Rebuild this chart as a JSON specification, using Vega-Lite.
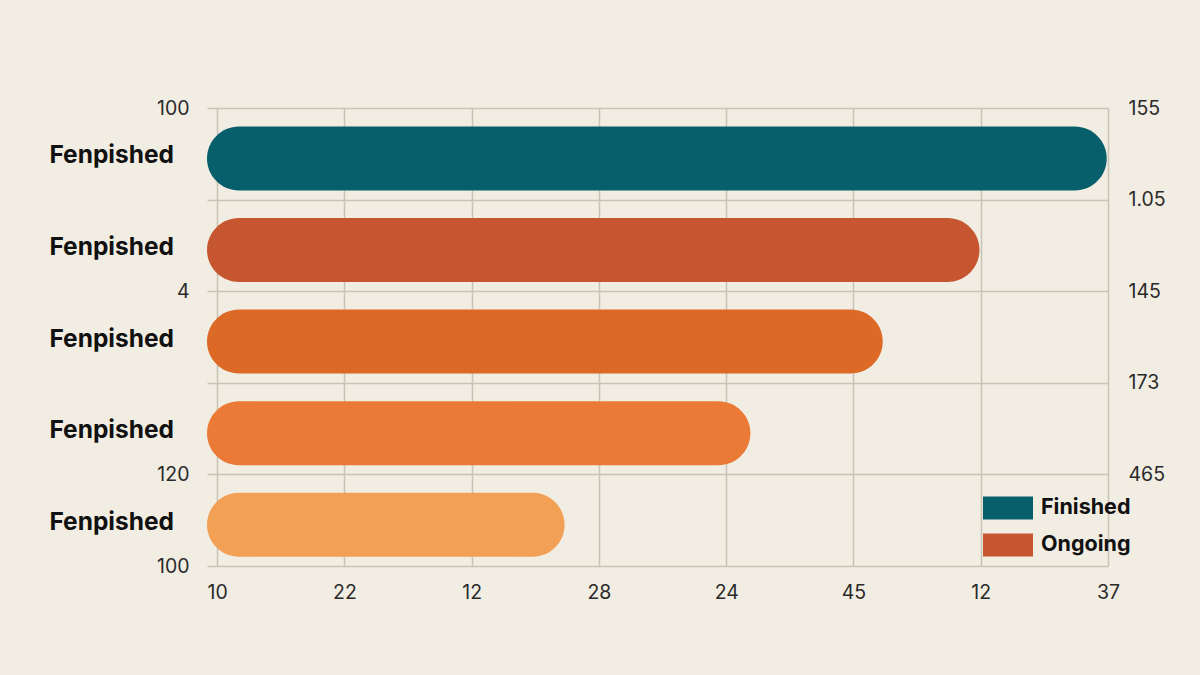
{
  "$schema": "https://vega.github.io/schema/vega-lite/v6.json",
  "width": 901,
  "height": 458,
  "autosize": {"type": "none"},
  "padding": {"left": 207, "top": 108, "right": 92, "bottom": 109},
  "background": "#f2ede3",
  "config": {
    "view": {"stroke": null},
    "font": "Inter",
    "axis": {
      "domain": false,
      "ticks": false,
      "labelFlush": false,
      "labelOverlap": false,
      "gridColor": "#c8c2b7",
      "gridWidth": 1.5,
      "gridOpacity": 1,
      "labelFont": "Inter",
      "labelFontSize": 19.5,
      "labelColor": "#2a2a2a",
      "title": null
    }
  },
  "data": {
    "values": [
      {"label": "Fenpished", "shade": "Finished", "row": 1, "value": 6.99},
      {"label": "Fenpished", "shade": "Ongoing", "row": 2, "value": 5.99},
      {"label": "Fenpished", "shade": "Ongoing 2", "row": 3, "value": 5.23},
      {"label": "Fenpished", "shade": "Ongoing 3", "row": 4, "value": 4.19},
      {"label": "Fenpished", "shade": "Ongoing 4", "row": 5, "value": 2.73}
    ]
  },
  "layer": [
    {
      "mark": {"type": "bar", "orient": "horizontal", "size": 64, "cornerRadius": 32},
      "encoding": {
        "x": {
          "field": "value",
          "type": "quantitative",
          "scale": {"domain": [-0.08, 7], "nice": false, "zero": false, "padding": 0},
          "axis": {
            "values": [0, 1, 2, 3, 4, 5, 6, 7],
            "grid": true,
            "labelPadding": 17,
            "labelExpr": "['10','22','12','28','24','45','12','37'][datum.value]"
          }
        },
        "x2": {"datum": -0.08},
        "y": {
          "field": "row",
          "type": "quantitative",
          "scale": {"domain": [0.45, 5.45], "nice": false, "zero": false, "reverse": true, "padding": 0},
          "axis": {
            "orient": "left",
            "values": [0.45, 1.45, 2.45, 3.45, 4.45, 5.45],
            "grid": true,
            "labelPadding": 18,
            "labelExpr": "['100','','4','','120','100'][round(datum.value-0.45)]"
          }
        },
        "color": {
          "field": "shade",
          "type": "nominal",
          "scale": {
            "domain": ["Finished", "Ongoing", "Ongoing 2", "Ongoing 3", "Ongoing 4"],
            "range": ["#065f6b", "#c6562f", "#dc6926", "#ea7a35", "#f2a055"]
          },
          "legend": {
            "values": ["Finished", "Ongoing"],
            "title": null,
            "orient": "none",
            "legendX": 776,
            "legendY": 375,
            "symbolType": "M-1,-0.46H1V0.46H-1Z",
            "symbolSize": 2500,
            "symbolStrokeWidth": 0,
            "symbolOpacity": 1,
            "labelFont": "Inter",
            "labelFontWeight": "bold",
            "labelFontSize": 21.5,
            "labelColor": "#111111",
            "labelOffset": 8,
            "rowPadding": -13
          }
        }
      }
    },
    {
      "mark": {"type": "text", "align": "right", "baseline": "middle", "dx": -33, "dy": -2, "font": "Inter", "fontWeight": "bold", "fontSize": 24.5, "color": "#111111"},
      "encoding": {
        "x": {"datum": -0.08},
        "y": {
          "field": "row",
          "type": "quantitative",
          "axis": {
            "orient": "right",
            "values": [0.45, 1.45, 2.45, 3.45, 4.45],
            "grid": false,
            "labelPadding": 20,
            "labelExpr": "['155','1.05','145','173','465'][round(datum.value-0.45)]"
          }
        },
        "text": {"field": "label"}
      }
    }
  ],
  "resolve": {"axis": {"y": "independent"}}
}
